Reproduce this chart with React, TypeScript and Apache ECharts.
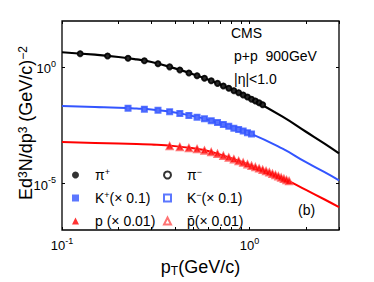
import React, { useEffect, useRef } from 'react';
import * as echarts from 'echarts';

// fit curves (pT in GeV/c)
const fitPt = [0.1, 0.15, 0.2, 0.25, 0.3, 0.4, 0.5, 0.6, 0.8, 1.0, 1.5, 2.0, 2.5, 3.0];
const pionFit = [4.51, 3.54, 2.82, 2.21, 1.71, 0.912, 0.513, 0.302, 0.115, 0.0479, 0.00759, 0.0017, 5.37e-4, 2.0e-4];
const kaonFit = [0.022, 0.02, 0.0186, 0.017, 0.01535, 0.01146, 0.008, 0.00564, 0.00267, 0.00149, 3.16e-4, 8.3e-5, 3.16e-5, 1.38e-5];
const protonFit = [6.21e-4, 5.64e-4, 5.27e-4, 5.0e-4, 4.78e-4, 4.09e-4, 3.3e-4, 2.54e-4, 1.23e-4, 6.34e-5, 1.71e-5, 5.32e-6, 2.11e-6, 9.7e-7];

// data points
const pionPt = [0.125, 0.175, 0.225, 0.275, 0.325, 0.375, 0.425, 0.475, 0.525, 0.575, 0.625, 0.675, 0.725, 0.775, 0.825, 0.875, 0.925, 0.975, 1.025, 1.075, 1.125, 1.175];
const piPlus = [3.98, 3.16, 2.51, 1.95, 1.46, 1.07, 0.794, 0.589, 0.447, 0.347, 0.269, 0.209, 0.162, 0.129, 0.102, 0.0832, 0.0661, 0.0537, 0.0437, 0.0363, 0.0302, 0.0251];
const piMinus = [3.9, 3.12, 2.47, 1.93, 1.44, 1.06, 0.78, 0.58, 0.44, 0.34, 0.265, 0.206, 0.16, 0.127, 0.1, 0.082, 0.065, 0.053, 0.043, 0.036, 0.03, 0.0248];

const kaonPt = [0.225, 0.275, 0.325, 0.375, 0.425, 0.475, 0.525, 0.575, 0.625, 0.675, 0.725, 0.775, 0.825, 0.875, 0.925, 0.975, 1.025];
const kPlus = [0.0178, 0.0162, 0.01445, 0.0126, 0.01047, 0.00871, 0.00733, 0.00617, 0.00513, 0.00427, 0.00355, 0.00295, 0.00245, 0.00214, 0.00186, 0.00158, 0.00138];
const kMinus = [0.0175, 0.016, 0.0143, 0.0124, 0.0104, 0.00862, 0.00725, 0.0061, 0.00508, 0.00422, 0.00351, 0.00292, 0.00243, 0.00211, 0.00184, 0.00156, 0.00136];

const protonPt = [0.375, 0.425, 0.475, 0.525, 0.575, 0.625, 0.675, 0.725, 0.775, 0.825, 0.875, 0.925, 0.975, 1.025, 1.075, 1.125, 1.175, 1.225, 1.275, 1.325, 1.375, 1.425, 1.475, 1.525, 1.575, 1.625];
const pPlus = [4.27e-4, 3.89e-4, 3.51e-4, 3.13e-4, 2.72e-4, 2.32e-4, 1.95e-4, 1.62e-4, 1.35e-4, 1.13e-4, 9.6e-5, 8.1e-5, 6.9e-5, 5.9e-5, 5.2e-5, 4.57e-5, 3.98e-5, 3.51e-5, 3.09e-5, 2.69e-5, 2.37e-5, 2.09e-5, 1.82e-5, 1.62e-5, 1.45e-5, 1.29e-5];
const pMinus = [4.05e-4, 3.7e-4, 3.34e-4, 2.98e-4, 2.6e-4, 2.21e-4, 1.86e-4, 1.55e-4, 1.29e-4, 1.08e-4, 9.2e-5, 7.8e-5, 6.6e-5, 5.7e-5, 5.0e-5, 4.4e-5, 3.84e-5, 3.39e-5, 2.98e-5, 2.6e-5, 2.29e-5, 2.02e-5, 1.76e-5, 1.57e-5, 1.4e-5, 1.25e-5];

// axis ticks
const xLabelValues = [0.1, 1];
const xTickValues = [0.1, 0.2, 0.3, 0.4, 0.5, 0.6, 0.7, 0.8, 0.9, 1, 2, 3];
const yLabelValues = [1e-5, 1];
const yTickValues = [1e-5, 1];

const BLACK = '#000000';
const BLUE = '#3355ff';
const RED = '#ff0000';
const FONT = 'Liberation Sans, Arial, sans-serif';

const zip = (xs: number[], ys: number[]) => xs.map((x, i) => [x, ys[i]]);

const legendNames: Record<string, string> = {
  piPlus: '{gap|}π{sup|+}',
  kPlus: '{gap|}K{sup|+}(× 0.1)',
  pPlus: '{gap|}p (× 0.01)',
  piMinus: '{gap|}π{sup|−}',
  kMinus: '{gap|}K{sup|−}(× 0.1)',
  pMinus: '{gap|}p̄(× 0.01)',
};

const expLabel = (v: number) => {
  const e = Math.round(Math.log10(v));
  return '{b|10}{s|' + e + '}';
};

export default function App() {
  const ref = useRef<HTMLDivElement>(null);
  useEffect(() => {
    if (!ref.current) return;
    const chart = echarts.init(ref.current, undefined, { renderer: 'svg' });
    const labelRich = {
      b: { fontSize: 13, fontFamily: FONT, color: '#000', lineHeight: 16, verticalAlign: 'bottom' },
      s: { fontSize: 9, fontFamily: FONT, color: '#000', lineHeight: 16, verticalAlign: 'top', padding: [0, 0, 6, 0] },
    };
    const commonX = {
      type: 'log',
      logBase: 10,
      min: 0.1,
      max: 3,
      axisLine: { show: false },
      splitLine: { show: false },
      axisTick: { show: true, inside: true, length: 3, customValues: xTickValues, lineStyle: { color: '#000' } },
    };
    const commonY = {
      type: 'log',
      logBase: 10,
      min: 1e-7,
      max: 100,
      axisLine: { show: false },
      splitLine: { show: false },
      axisTick: { show: true, inside: true, length: 3, customValues: yTickValues, lineStyle: { color: '#000' } },
    };
    const legendText = {
      fontSize: 14,
      fontFamily: FONT,
      color: '#000',
      lineHeight: 16,
      rich: {
        gap: { width: 11 },
        sup: { fontSize: 9, fontFamily: FONT, verticalAlign: 'top', lineHeight: 10, color: '#000' },
      },
    };
    const legendBase = {
      orient: 'vertical',
      top: 167,
      itemWidth: 7,
      itemHeight: 7,
      itemGap: 7,
      padding: 0,
      selectedMode: false,
      formatter: (n: string) => legendNames[n],
      textStyle: legendText,
    };
    const option: any = {
      animation: false,
      backgroundColor: '#ffffff',
      grid: { left: 62, top: 21, right: 35, bottom: 50, show: true, borderColor: '#000', borderWidth: 1.3, backgroundColor: 'transparent' },
      xAxis: [
        {
          ...commonX,
          position: 'bottom',
          name: 'p{sub|T}(GeV/c)',
          nameLocation: 'middle',
          nameGap: 27,
          nameTextStyle: {
            fontSize: 18,
            fontFamily: FONT,
            color: '#000',
            rich: { sub: { fontSize: 12, fontFamily: FONT, verticalAlign: 'bottom', padding: [8, 0, 0, 0], color: '#000' } },
          },
          axisLabel: { show: true, margin: 6, customValues: xLabelValues, formatter: expLabel, rich: labelRich },
        },
        { ...commonX, position: 'top', axisLabel: { show: false } },
      ],
      yAxis: [
        {
          ...commonY,
          position: 'left',
          axisLabel: { show: true, margin: 6, customValues: yLabelValues, formatter: expLabel, rich: labelRich },
        },
        { ...commonY, position: 'right', axisLabel: { show: false } },
      ],
      legend: [
        { ...legendBase, data: ['piPlus', 'kPlus', 'pPlus'], left: 72 },
        { ...legendBase, data: ['piMinus', 'kMinus', 'pMinus'], left: 163 },
      ],
      graphic: [
        {
          type: 'text',
          x: 26,
          y: 123,
          rotation: Math.PI / 2,
          style: {
            text: 'Ed{sup|3}N/dp{sup|3} (GeV/c){sup|−2}',
            fontSize: 18,
            fontFamily: FONT,
            fill: '#000',
            align: 'center',
            verticalAlign: 'middle',
            rich: { sup: { fontSize: 12, fontFamily: FONT, verticalAlign: 'top', fill: '#000' } },
          },
        },
        { type: 'text', left: 231, top: 26, style: { text: 'CMS', font: '14px ' + FONT, fill: '#000' } },
        { type: 'text', left: 234, top: 49, style: { text: 'p+p  900GeV', font: '14px ' + FONT, fill: '#000' } },
        { type: 'text', left: 234, top: 72, style: { text: '|η|<1.0', font: '14px ' + FONT, fill: '#000' } },
        { type: 'text', left: 298, top: 203, style: { text: '(b)', font: '14px ' + FONT, fill: '#000' } },
      ],
      series: [
        { type: 'line', name: 'pionFit', data: zip(fitPt, pionFit), smooth: true, showSymbol: false, lineStyle: { color: BLACK, width: 2.2 }, z: 1 },
        { type: 'line', name: 'kaonFit', data: zip(fitPt, kaonFit), smooth: true, showSymbol: false, lineStyle: { color: BLUE, width: 2 }, z: 1 },
        { type: 'line', name: 'protonFit', data: zip(fitPt, protonFit), smooth: true, showSymbol: false, lineStyle: { color: RED, width: 2 }, z: 1 },
        { type: 'scatter', name: 'piMinus', data: zip(pionPt, piMinus), symbol: 'emptyCircle', symbolSize: 5, itemStyle: { color: BLACK, borderWidth: 1 }, z: 2 },
        { type: 'scatter', name: 'piPlus', data: zip(pionPt, piPlus), symbol: 'circle', symbolSize: 6, itemStyle: { color: BLACK }, z: 3 },
        { type: 'scatter', name: 'kMinus', data: zip(kaonPt, kMinus), symbol: 'emptyRect', symbolSize: 5, itemStyle: { color: BLUE, borderWidth: 1 }, z: 2 },
        { type: 'scatter', name: 'kPlus', data: zip(kaonPt, kPlus), symbol: 'rect', symbolSize: 5, itemStyle: { color: BLUE }, z: 3 },
        { type: 'scatter', name: 'pMinus', data: zip(protonPt, pMinus), symbol: 'emptyTriangle', symbolSize: 6, itemStyle: { color: '#ff5050', borderWidth: 1 }, z: 2 },
        { type: 'scatter', name: 'pPlus', data: zip(protonPt, pPlus), symbol: 'triangle', symbolSize: 6, itemStyle: { color: RED }, z: 3 },
      ],
    };
    chart.setOption(option);
    return () => chart.dispose();
  }, []);
  return <div ref={ref} style={{ position: 'fixed', left: 0, top: 0, width: 374, height: 282 }} />;
}
